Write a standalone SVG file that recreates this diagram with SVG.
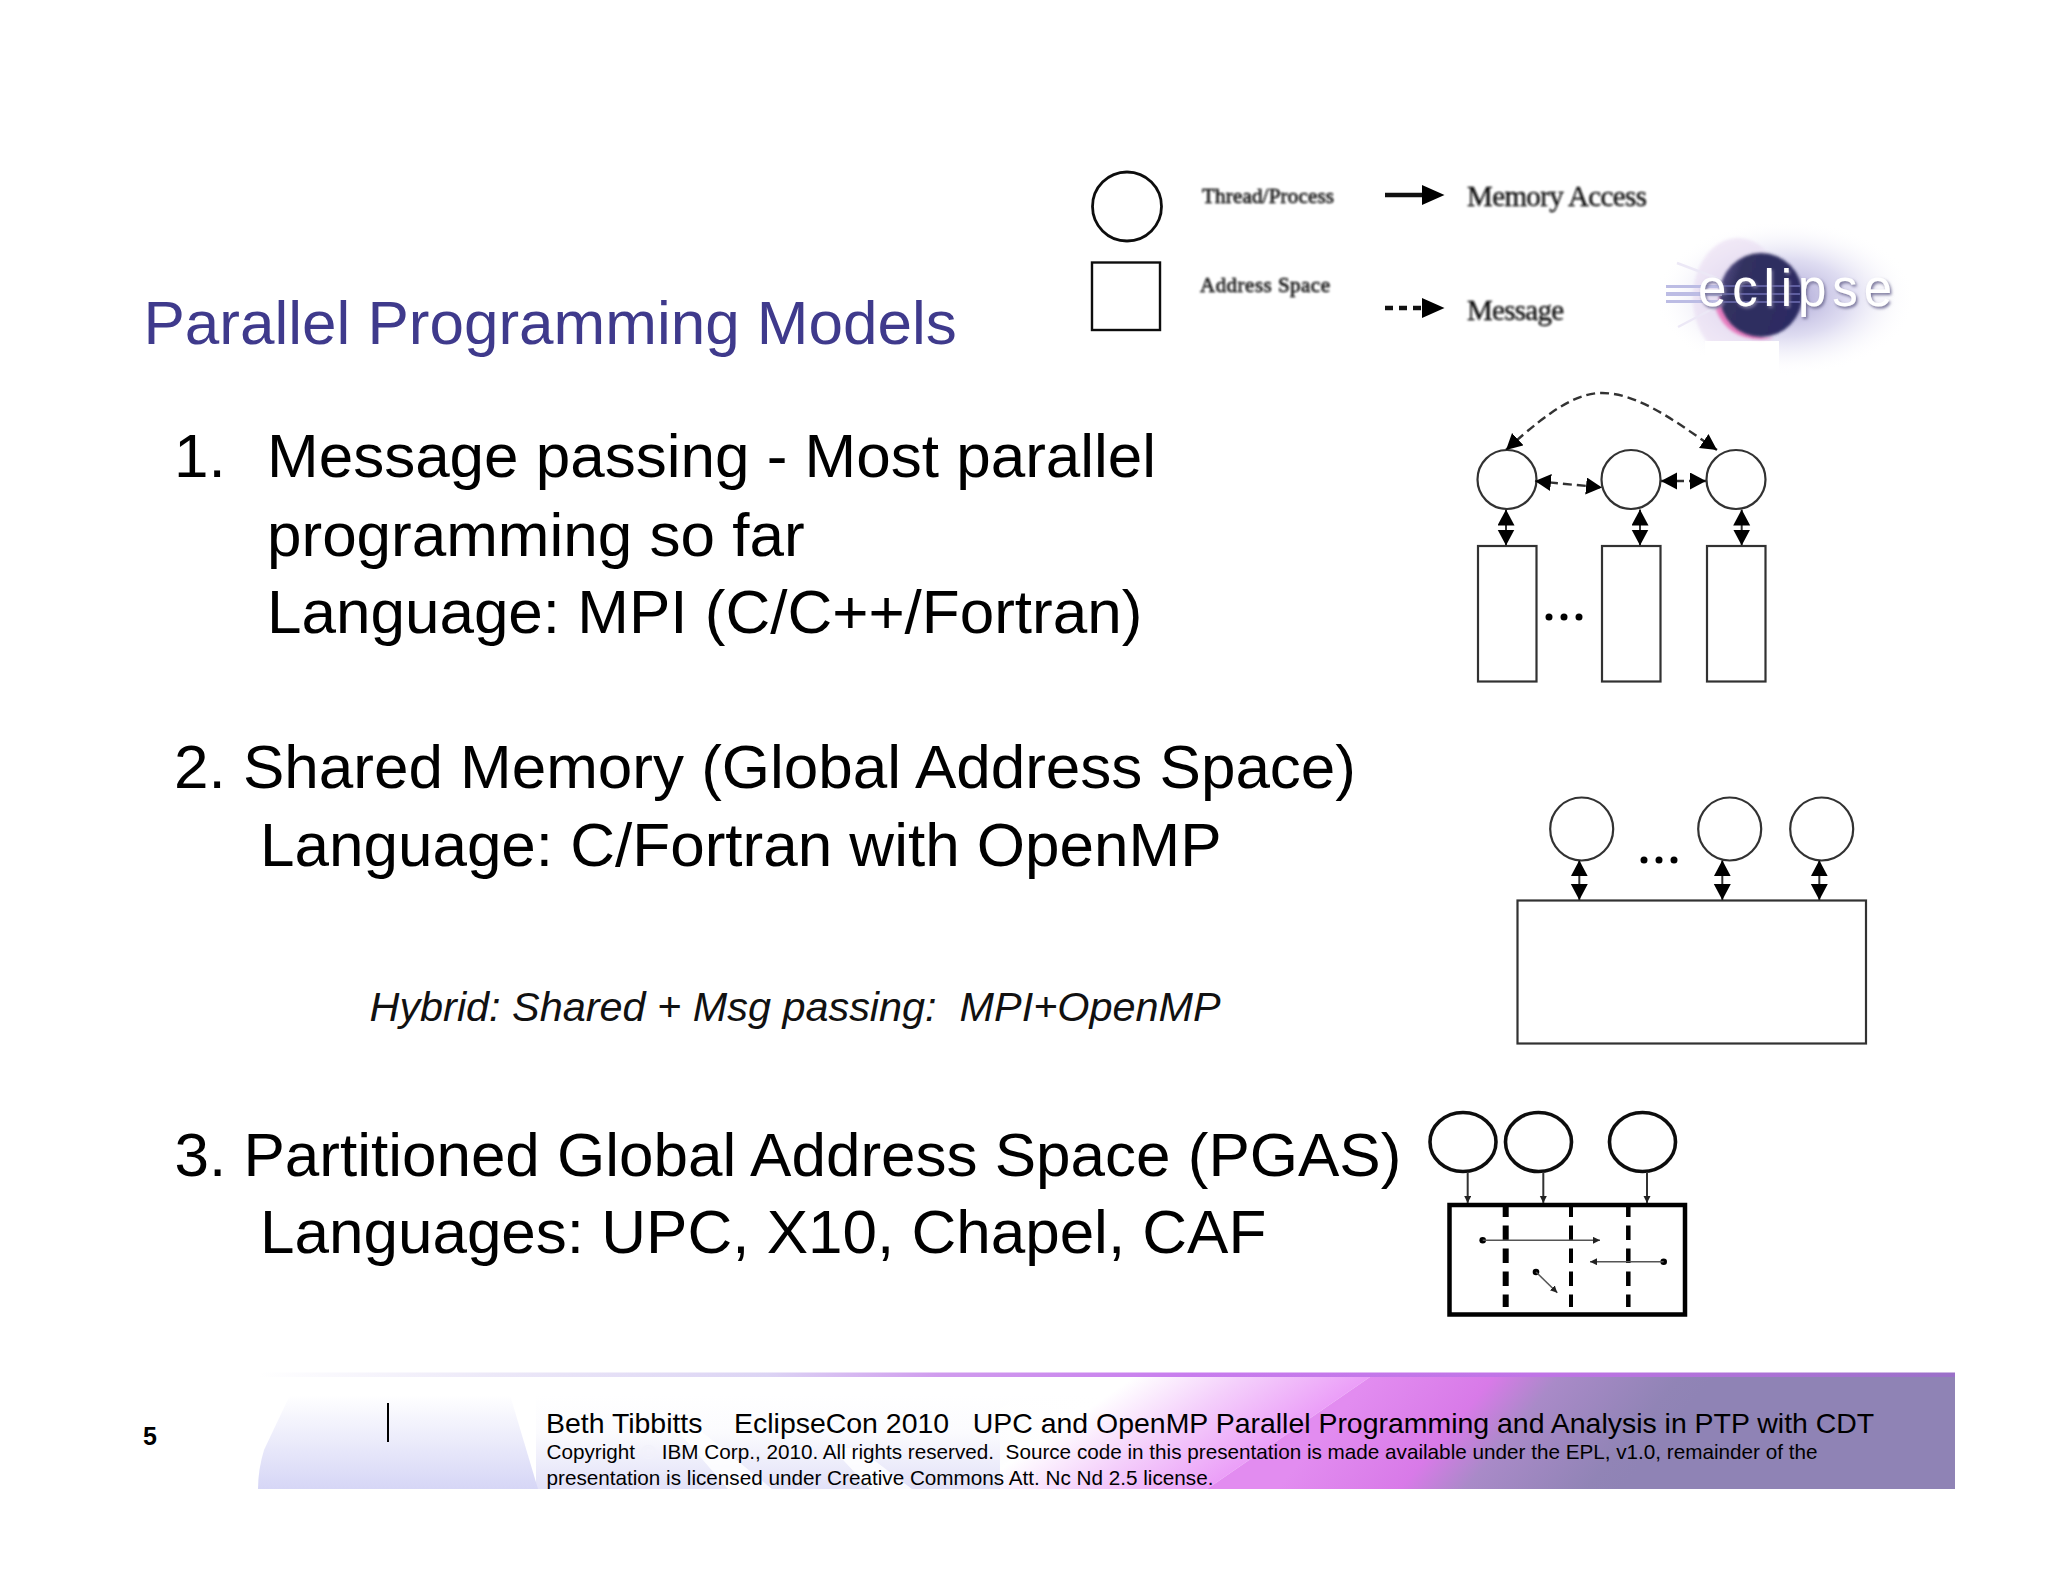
<svg xmlns="http://www.w3.org/2000/svg" width="2048" height="1582" viewBox="0 0 2048 1582">
<style>
text{font-family:"Liberation Sans",Arial,sans-serif;white-space:pre}
.title{font-size:62px;fill:#3f3a8c}
.body{font-size:62px;fill:#000}
.hyb{font-size:41.400px;font-style:italic;fill:#111}
.f1{font-size:28.450px;fill:#000}
.f2{font-size:20.700px;fill:#000}
.ser{font-family:"Liberation Serif","Times New Roman",serif;fill:#111}
.sm{font-size:21px;stroke:#111;stroke-width:.6px}
.lg{font-size:29px;stroke:#111;stroke-width:.4px}
.s2{fill:#fff;stroke:#333;stroke-width:2.200px}
.s3{fill:#fff;stroke:#111;stroke-width:3.600px}
.arr{fill:none;stroke:#333;stroke-width:2px}
.dash{fill:none;stroke:#333;stroke-width:2.400px;stroke-dasharray:9 5}
.thin{fill:none;stroke:#555;stroke-width:1.600px}
.dot{fill:#000}
.wall{fill:none;stroke:#000;stroke-dasharray:14.500 8.500;stroke-dashoffset:4.500}
.soft{filter:url(#b0)}
</style>
<defs>
<marker id="h" markerUnits="userSpaceOnUse" markerWidth="18" markerHeight="18" refX="16" refY="8.500" orient="auto-start-reverse"><path d="M0 0L16 8.500L0 17z" fill="#000"/></marker>
<marker id="hs" markerUnits="userSpaceOnUse" markerWidth="10" markerHeight="10" refX="7" refY="3.500" orient="auto"><path d="M0 0L7 3.500L0 7z" fill="#222"/></marker>
<linearGradient id="bar" x1="0" x2="1" y1="0" y2="0">
<stop offset="0" stop-color="#fff"/><stop offset=".14" stop-color="#ece8f8"/><stop offset=".3" stop-color="#dcd4f4"/><stop offset=".4" stop-color="#d09cee"/><stop offset=".55" stop-color="#c87cee"/><stop offset=".75" stop-color="#c074e6"/><stop offset="1" stop-color="#9a70c8"/>
</linearGradient>
<linearGradient id="lav" x1="0" x2="0" y1="0" y2="1">
<stop offset="0" stop-color="#fff"/><stop offset="1" stop-color="#d6d6f6"/>
</linearGradient>
<linearGradient id="lav2" x1="0" x2="0" y1="0" y2="1">
<stop offset="0" stop-color="#fff"/><stop offset=".4" stop-color="#fbfbfe"/><stop offset="1" stop-color="#e2e1f8"/>
</linearGradient>
<linearGradient id="light" gradientUnits="userSpaceOnUse" x1="1076" y1="1295" x2="1209" y2="1487">
<stop offset="0" stop-color="#fff" stop-opacity="0"/><stop offset=".43" stop-color="#fff"/><stop offset=".7" stop-color="#f4cffb"/><stop offset="1" stop-color="#eb9ff8"/>
</linearGradient>
<linearGradient id="deep" gradientUnits="userSpaceOnUse" x1="1370" y1="1377" x2="1573" y2="1546">
<stop offset="0" stop-color="#e28cf0"/><stop offset=".36" stop-color="#d87ae8"/><stop offset=".55" stop-color="#a98ac8"/><stop offset=".9" stop-color="#9184b6"/><stop offset="1" stop-color="#8f83b5"/>
</linearGradient>
<radialGradient id="glow"><stop offset="0" stop-color="#8a82c4" stop-opacity=".75"/><stop offset=".5" stop-color="#c4c0e6" stop-opacity=".55"/><stop offset="1" stop-color="#fff" stop-opacity="0"/></radialGradient>
<linearGradient id="ball" x1="0" x2="1" y1="0" y2=".4"><stop offset="0" stop-color="#6a5e98"/><stop offset=".3" stop-color="#30305f"/><stop offset="1" stop-color="#2c2b62"/></linearGradient>
<filter id="b0" x="-5%" y="-5%" width="110%" height="110%"><feGaussianBlur stdDeviation=".5"/></filter>
<filter id="b1" x="-5%" y="-20%" width="110%" height="140%"><feGaussianBlur stdDeviation=".8"/></filter>
<filter id="b2" x="-20%" y="-20%" width="140%" height="140%"><feGaussianBlur stdDeviation="1.500"/></filter>
<filter id="sh" x="-5%" y="-20%" width="110%" height="140%"><feGaussianBlur in="SourceGraphic" stdDeviation=".5" result="t"/><feDropShadow in="t" dx="1.500" dy="2" stdDeviation="1.500" flood-color="#77739a" flood-opacity="1"/></filter>
</defs>
<rect width="2048" height="1582" fill="#fff"/>

<g id="legend">
<g id="legend-thread"><circle class="s3" cx="1127" cy="206.500" r="34.500" style="stroke-width:2.800px" filter="url(#b0)"/><text class="ser sm" x="1202" y="203" filter="url(#b1)" textLength="132">Thread/Process</text></g>
<g id="legend-space"><rect class="s3" x="1092" y="262.500" width="68" height="67.500" style="stroke-width:2.400px" filter="url(#b0)"/><text class="ser sm" x="1200" y="292" filter="url(#b1)" textLength="130">Address Space</text></g>
<g id="legend-memory"><path d="M1385 195H1428" stroke="#111" stroke-width="4.500" fill="none"/><path d="M1422 185L1444.500 195L1422 205z" fill="#000"/><text class="ser lg" x="1467" y="206" filter="url(#b1)" textLength="180">Memory Access</text></g>
<g id="legend-message"><path d="M1385 308H1428" stroke="#111" stroke-width="4.500" stroke-dasharray="8 6" fill="none"/><path d="M1422 298L1444.500 308L1422 318z" fill="#000"/><text class="ser lg" x="1467" y="320" filter="url(#b1)" textLength="97">Message</text></g>
</g>

<g id="eclipse-logo">
<ellipse cx="1785" cy="298" rx="130" ry="78" fill="url(#glow)"/>
<ellipse cx="1738" cy="298" rx="45" ry="60" fill="#e9dcf2" opacity=".6" filter="url(#b2)"/>
<path d="M1677 263L1722 280M1678 327L1718 306" stroke="#ece8f6" stroke-width="2.500" fill="none"/>
<rect x="1705" y="341" width="74" height="40" fill="#fff"/>
<path d="M1716 310Q1730 345 1775 338Q1738 338 1722 290z" fill="#e87fc0" filter="url(#b2)"/>
<ellipse cx="1761" cy="295" rx="41.500" ry="42" fill="url(#ball)" filter="url(#b2)"/>
<path d="M1666 286H1722M1666 294H1722M1666 302H1722" stroke="#bcbce4" stroke-width="4" fill="none" filter="url(#b0)"/>
<path d="M1722 286H1800M1722 294H1800M1722 302H1800" stroke="#6f6fb4" stroke-width="1.500" fill="none"/>
<text x="1698" y="306" style="font-size:51px;fill:#fff" textLength="194" filter="url(#sh)">eclipse</text>
</g>

<g id="slide-text">
<text class="title" x="143.500" y="344">Parallel Programming Models</text>
<text class="body" x="174" y="477">1.</text>
<text class="body" x="267" y="477">Message passing - Most parallel</text>
<text class="body" x="267" y="555.500">programming so far</text>
<text class="body" x="267" y="633">Language: MPI (C/C++/Fortran)</text>
<text class="body" x="174" y="788">2. Shared Memory (Global Address Space)</text>
<text class="body" x="260" y="866">Language: C/Fortran with OpenMP</text>
<text class="hyb" x="369.500" y="1020.500">Hybrid: Shared + Msg passing:  MPI+OpenMP</text>
<text class="body" x="174.500" y="1176">3. Partitioned Global Address Space (PGAS)</text>
<text class="body" x="260" y="1253">Languages: UPC, X10, Chapel, CAF</text>
</g>

<g id="message-passing" class="soft">
<g id="mp-t1"><circle class="s2" cx="1507" cy="479.500" r="29.500"/></g>
<g id="mp-t2"><circle class="s2" cx="1631" cy="479.500" r="29.500"/></g>
<g id="mp-t3"><circle class="s2" cx="1736" cy="479.500" r="29.500"/></g>
<g id="mp-m1"><rect class="s2" x="1478" y="546" width="58.500" height="135.500"/></g>
<g id="mp-m2"><rect class="s2" x="1602" y="546" width="58.500" height="135.500"/></g>
<g id="mp-m3"><rect class="s2" x="1707" y="546" width="58.500" height="135.500"/></g>
<g id="mp-dots"><circle class="dot" cx="1549" cy="617" r="3.500"/><circle class="dot" cx="1564" cy="617" r="3.500"/><circle class="dot" cx="1579" cy="617" r="3.500"/></g>
</g>

<g id="shared-memory" class="soft">
<g id="sm-t1"><circle class="s2" cx="1581.700" cy="829" r="31.500"/></g>
<g id="sm-t2"><circle class="s2" cx="1729.700" cy="829" r="31.500"/></g>
<g id="sm-t3"><circle class="s2" cx="1821.700" cy="829" r="31.500"/></g>
<g id="sm-m"><rect class="s2" x="1517.500" y="900.500" width="348.500" height="143"/></g>
<g id="sm-dots"><circle class="dot" cx="1644" cy="860" r="3.500"/><circle class="dot" cx="1659" cy="860" r="3.500"/><circle class="dot" cx="1674" cy="860" r="3.500"/></g>
</g>

<g id="pgas" class="soft">
<g id="pg-t1"><ellipse class="s3" cx="1463" cy="1142" rx="33" ry="29.500"/></g>
<g id="pg-t2"><ellipse class="s3" cx="1538.500" cy="1142" rx="33" ry="29.500"/></g>
<g id="pg-t3"><ellipse class="s3" cx="1642.500" cy="1142" rx="33" ry="29.500"/></g>
<g id="pg-m"><rect x="1449.500" y="1205" width="235.500" height="109.500" fill="#fff" stroke="#000" stroke-width="4.500"/></g>
</g>

<g id="connectors" class="soft">
<path class="dash" d="M1506 450C1555 405 1580 393 1602 393C1640 393 1680 425 1717 450" marker-start="url(#h)" marker-end="url(#h)"/>
<path class="dash" d="M1535 481L1602 487.500" marker-start="url(#h)" marker-end="url(#h)"/>
<path class="dash" d="M1661 481H1706" marker-start="url(#h)" marker-end="url(#h)"/>
<path class="arr" d="M1506 509.500V545.500" marker-start="url(#h)" marker-end="url(#h)"/>
<path class="arr" d="M1640 509.500V545.500" marker-start="url(#h)" marker-end="url(#h)"/>
<path class="arr" d="M1741.700 509.500V545.500" marker-start="url(#h)" marker-end="url(#h)"/>
<path class="arr" d="M1579.300 860.300V900" marker-start="url(#h)" marker-end="url(#h)"/>
<path class="arr" d="M1722.300 860.300V900" marker-start="url(#h)" marker-end="url(#h)"/>
<path class="arr" d="M1819.300 860.300V900" marker-start="url(#h)" marker-end="url(#h)"/>
<path class="arr" d="M1467.700 1172V1203" marker-end="url(#hs)"/>
<path class="arr" d="M1543.300 1172V1203" marker-end="url(#hs)"/>
<path class="arr" d="M1647 1172V1203" marker-end="url(#hs)"/>
<path class="wall" stroke-width="6" d="M1505.700 1207V1307"/>
<path class="wall" stroke-width="4" d="M1571 1207V1307"/>
<path class="wall" stroke-width="4.500" d="M1628.300 1207V1307"/>
<circle class="dot" cx="1482.700" cy="1240.300" r="3.300"/><path class="thin" d="M1482.700 1240.300H1600" marker-end="url(#hs)"/>
<circle class="dot" cx="1663.700" cy="1261.700" r="3.300"/><path class="thin" d="M1663.700 1261.700H1590" marker-end="url(#hs)"/>
<circle class="dot" cx="1536" cy="1272" r="3.300"/><path class="thin" d="M1536 1272L1557.300 1292.700" marker-end="url(#hs)"/>
</g>

<g id="footer">
<path d="M536 1395H1210V1489H536z" fill="url(#lav2)"/>
<path d="M690 1422L772 1489H728L670 1422zM858 1448L912 1489H870L832 1448z" fill="#fff" opacity=".85"/>
<path d="M290 1395L510 1395L538 1489H258Q258 1470 264 1450z" fill="url(#lav)"/>
<path d="M1370 1377L1207 1489H1000V1377z" fill="url(#light)"/>
<path d="M1370 1377H1955V1489H1207z" fill="url(#deep)"/>
<rect x="258" y="1372.500" width="1697" height="4.500" fill="url(#bar)"/>
<path d="M388 1403V1442" stroke="#000" stroke-width="2"/>
<text x="143" y="1445" style="font-size:25px;font-weight:bold;fill:#000">5</text>
<text class="f1" x="546" y="1433">Beth Tibbitts    EclipseCon 2010   UPC and OpenMP Parallel Programming and Analysis in PTP with CDT</text>
<text class="f2" x="546.500" y="1459">Copyright <tspan fill="#f2f2fb">©</tspan> IBM Corp., 2010. All rights reserved.  Source code in this presentation is made available under the EPL, v1.0, remainder of the</text>
<text class="f2" x="546.500" y="1485">presentation is licensed under Creative Commons Att. Nc Nd 2.5 license.</text>
</g>
</svg>
